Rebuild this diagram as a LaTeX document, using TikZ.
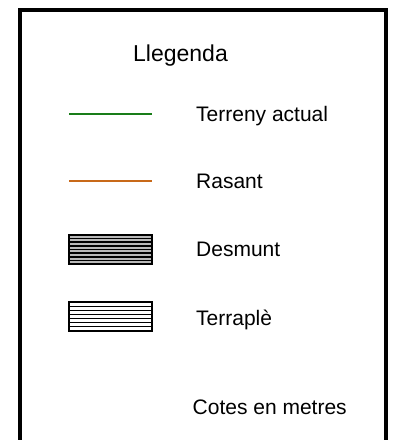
\documentclass[tikz,border=0pt]{standalone}
\usepackage{fontspec}
\setmainfont{Liberation Sans}

\definecolor{terreny}{RGB}{25,125,25}
\definecolor{rasant}{RGB}{200,105,25}

\tikzset{
  label/.style={anchor=base west, inner sep=0pt},
  mostra/.style={line width=2pt},
}

\begin{document}
\begin{tikzpicture}[x=1pt, y=-1pt, font=\fontsize{21}{24}\selectfont]
  \useasboundingbox (0,0) rectangle (401,440);
  \clip (0,0) rectangle (401,440);
  % marc de la llegenda
  \draw[line width=4pt] (20,470) -- (20,9.5) -- (386,9.5) -- (386,470);
  \node[anchor=base west, inner sep=0pt, font=\fontsize{23}{26}\selectfont] (titol) at (133,61) {Llegenda};

  % terreny actual
  \coordinate (t1) at (69,113.5);
  \coordinate (t2) at (152,113.5);
  \draw[mostra, terreny] (t1) -- (t2);
  \node[label] (terreny) at (196,121.5) {Terreny actual};

  % rasant
  \coordinate (r1) at (69,180.5);
  \coordinate (r2) at (152,180.5);
  \draw[mostra, rasant] (r1) -- (r2);
  \node[label] (rasant) at (196,188.5) {Rasant};

  % desmunt
  \fill[gray!55] (69,235) rectangle (152,264);
  \foreach \i in {1,...,7}
    \draw[line width=1.6pt] (69,235+\i*3.62) -- (152,235+\i*3.62);
  \draw[line width=1.6pt] (69,235) rectangle (152,264);
  \node[label] (desmunt) at (196,256.5) {Desmunt};

  % terraple
  \foreach \i in {1,...,6}
    \draw[line width=1.2pt] (69,302+\i*4.1) -- (152,302+\i*4.1);
  \draw[line width=1.6pt] (69,302) rectangle (152,331);
  \node[label] (terraple) at (196,325.5) {Terraplè};

  \node[label] (cotes) at (192.5,414) {Cotes en metres};
\end{tikzpicture}
\end{document}
